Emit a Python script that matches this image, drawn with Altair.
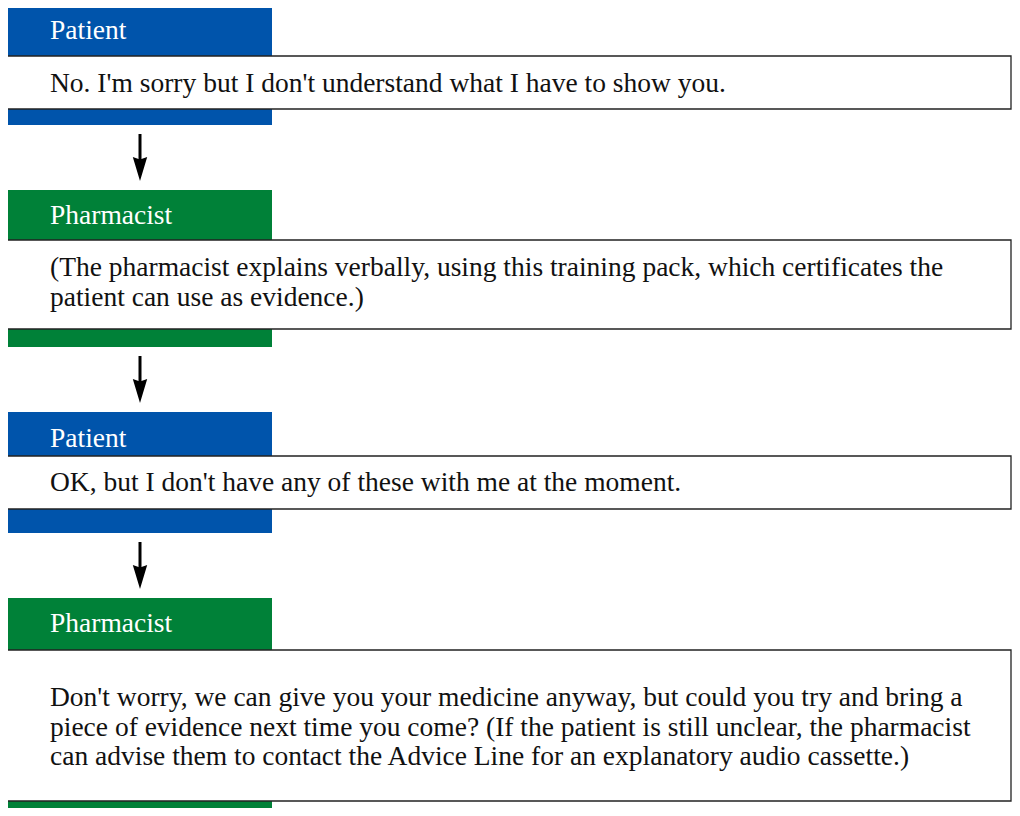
import altair as alt
import pandas as pd

# ---- content ----
speakers = ["Patient", "Pharmacist", "Patient", "Pharmacist"]
messages = [
    ["No. I'm sorry but I don't understand what I have to show you."],
    ["(The pharmacist explains verbally, using this training pack, which certificates the",
     "patient can use as evidence.)"],
    ["OK, but I don't have any of these with me at the moment."],
    ["Don't worry, we can give you your medicine anyway, but could you try and bring a",
     "piece of evidence next time you come? (If the patient is still unclear, the pharmacist",
     "can advise them to contact the Advice Line for an explanatory audio cassette.)"],
]
speaker_colors = {"Patient": "#0054AB", "Pharmacist": "#008138"}

# ---- layout (screen pixels) ----
bar_top = [6, 190, 412, 598]
header_y = [31, 216, 439, 624]
box_top = [56, 240, 456, 650]
box_bottom = [109, 329, 509, 801]
bar_bottom = [125, 347, 533, 816]
first_line_y = [84, 268, 483, 698]
line_gap = 29.5
bar_x0, bar_x1 = 7, 272
box_x0, box_x1 = 6, 1011
text_x = 50
arrow_x = 140

W, H = 1004, 800
xs = alt.Scale(domain=[8, 8 + W], nice=False, zero=False)
ys = alt.Scale(domain=[8, 8 + H], nice=False, zero=False, reverse=True)

bars = pd.DataFrame({
    "speaker": speakers,
    "x0": bar_x0, "x1": bar_x1,
    "y0": bar_top, "y1": bar_bottom,
    "color": [speaker_colors[s] for s in speakers],
    "hy": header_y,
    "hx": text_x,
})
boxes = pd.DataFrame({"x0": box_x0, "x1": box_x1, "y0": box_top, "y1": box_bottom})

lines = []
for i, msg in enumerate(messages):
    for j, t in enumerate(msg):
        lines.append({"text": t, "x": text_x, "y": first_line_y[i] + j * line_gap})
lines = pd.DataFrame(lines)

arrows = pd.DataFrame({
    "x": arrow_x,
    "y0": [bar_bottom[i] + 9 for i in range(3)],
    "y1": [bar_top[i + 1] - 24 for i in range(3)],
    "tip": [bar_top[i + 1] - 9 - 12 for i in range(3)],
})

X = lambda f: alt.X(f"{f}:Q", scale=xs, axis=None)
Y = lambda f: alt.Y(f"{f}:Q", scale=ys, axis=None)

bar_layer = alt.Chart(bars).mark_rect().encode(
    x=X("x0"), x2="x1", y=Y("y0"), y2="y1",
    color=alt.Color("color:N", scale=None),
)
header_layer = alt.Chart(bars).mark_text(
    align="left", baseline="middle", font="Liberation Serif", fontSize=27.5, color="white"
).encode(x=X("hx"), y=Y("hy"), text="speaker:N")

box_layer = alt.Chart(boxes).mark_rect(
    fill="white", stroke="#222222", strokeWidth=1.3
).encode(x=X("x0"), x2="x1", y=Y("y0"), y2="y1")

text_layer = alt.Chart(lines).mark_text(
    align="left", baseline="middle", font="Liberation Serif", fontSize=27.5, color="#111111"
).encode(x=X("x"), y=Y("y"), text="text:N")

rule_layer = alt.Chart(arrows).mark_rule(color="black", strokeWidth=3).encode(
    x=X("x"), y=Y("y0"), y2="y1"
)
head_layer = alt.Chart(arrows).mark_point(
    shape="M-0.6,-1L0,1L0.6,-1L0,-0.8Z", filled=True, color="black", opacity=1, size=576
).encode(x=X("x"), y=Y("tip"))

chart = alt.layer(
    bar_layer, box_layer, header_layer, text_layer, rule_layer, head_layer
).properties(
    width=W, height=H, padding=0, autosize=alt.AutoSizeParams(type="none")
).configure_view(stroke=None)

chart.save("out.html", embed_options={"renderer": "svg", "actions": False})
